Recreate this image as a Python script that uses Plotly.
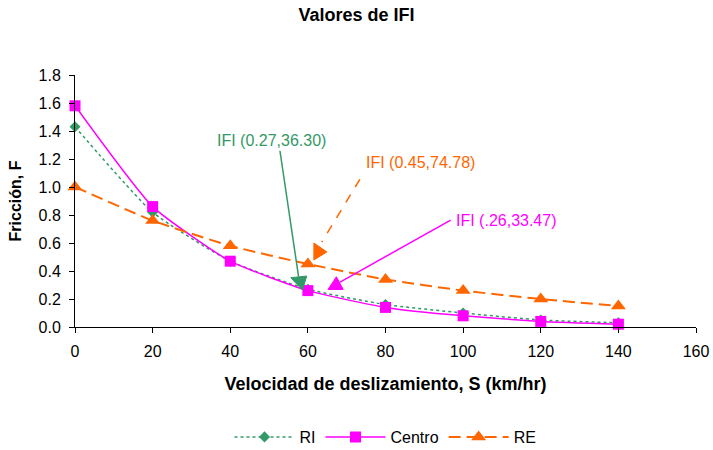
import plotly.graph_objects as go

# Velocidad de deslizamiento (km/hr) y fricción medida por franja
velocidad = [0, 20, 40, 60, 80, 100, 120, 140]
friccion_ri = [1.43, 0.82, 0.47, 0.27, 0.16, 0.10, 0.05, 0.03]
friccion_centro = [1.58, 0.86, 0.47, 0.26, 0.14, 0.08, 0.04, 0.02]
friccion_re = [1.00, 0.76, 0.58, 0.45, 0.34, 0.26, 0.20, 0.15]

x_ticks = [0, 20, 40, 60, 80, 100, 120, 140, 160]
y_ticks = [0.0, 0.2, 0.4, 0.6, 0.8, 1.0, 1.2, 1.4, 1.6, 1.8]

VERDE = "#339966"
MAGENTA = "#FF00FF"
NARANJA = "#FF6600"
FONT = "Liberation Sans, Arial, sans-serif"

fig = go.Figure()

fig.add_trace(go.Scatter(
    x=velocidad, y=friccion_ri, name="RI", mode="lines+markers",
    line=dict(color=VERDE, width=1.5, dash="3px,3px", shape="spline", smoothing=0.5),
    marker=dict(symbol="diamond", size=8.5, color=VERDE),
    cliponaxis=False,
))
fig.add_trace(go.Scatter(
    x=velocidad, y=friccion_centro, name="Centro", mode="lines+markers",
    line=dict(color=MAGENTA, width=1.5, shape="spline", smoothing=0.5),
    marker=dict(symbol="square", size=11, color=MAGENTA),
    cliponaxis=False,
))
fig.add_trace(go.Scatter(
    x=velocidad, y=friccion_re, name="RE", mode="lines+markers",
    line=dict(color=NARANJA, width=2, dash="12px,6px", shape="spline", smoothing=0.5),
    marker=dict(symbol="triangle-up", size=13, color=NARANJA),
    cliponaxis=False,
))

# Llamadas con el IFI de cada franja: línea, punta de flecha y texto
llamadas = [
    dict(texto="IFI (0.27,36.30)", color=VERDE, tx=50.5, ty=1.33,
         linea=(52.8, 1.259, 57.6, 0.36), dash="solid",
         punta=[(55.6, 0.352), (59.7, 0.364), (58.6, 0.264)]),
    dict(texto="IFI (0.45,74.78)", color=NARANJA, tx=89.1, ty=1.176,
         linea=(73.4, 1.055, 63.6, 0.607), dash="dash",
         punta=[(61.55, 0.60), (61.55, 0.479), (64.9, 0.536)]),
    dict(texto="IFI (.26,33.47)", color=MAGENTA, tx=111.25, ty=0.764,
         linea=(96.8, 0.764, 68.3, 0.321), dash="solid",
         punta=[(65.2, 0.268), (69.1, 0.268), (67.35, 0.359)]),
]

for c in llamadas:
    x0, y0, x1, y1 = c["linea"]
    fig.add_shape(type="line", xref="x", yref="y", x0=x0, y0=y0, x1=x1, y1=y1,
                  line=dict(color=c["color"], width=1.5, dash=c["dash"]))
    p = c["punta"]
    path = "M {} {} L {} {} L {} {} Z".format(p[0][0], p[0][1], p[1][0], p[1][1], p[2][0], p[2][1])
    fig.add_shape(type="path", xref="x", yref="y", path=path,
                  fillcolor=c["color"], line=dict(color=c["color"], width=1))
    fig.add_annotation(x=c["tx"], y=c["ty"], xref="x", yref="y", text=c["texto"],
                       showarrow=False, font=dict(family=FONT, size=16, color=c["color"]))

fig.update_layout(
    width=713, height=450,
    margin=dict(l=75, r=17, t=75, b=123, autoexpand=False),
    paper_bgcolor="white", plot_bgcolor="white",
    font=dict(family=FONT, size=16, color="black"),
    title=dict(text="<b>Valores de IFI</b>", x=0.5, xanchor="center",
               y=1 - 15 / 450, yanchor="middle", font=dict(size=18)),
    showlegend=True,
    legend=dict(orientation="h", x=0.5, xanchor="center", xref="paper",
                y=-110 / 252, yanchor="middle", font=dict(size=16),
                itemwidth=60, bgcolor="rgba(0,0,0,0)"),
)

fig.update_xaxes(
    range=[0, 160], tickvals=x_ticks, ticktext=[str(v) for v in x_ticks],
    showgrid=False, zeroline=False, showline=True, linecolor="black", linewidth=1,
    ticks="outside", ticklen=5, tickcolor="black", automargin=False,
    ticklabelstandoff=5,
    title=dict(text="<b>Velocidad de deslizamiento, S (km/hr)</b>", font=dict(size=18), standoff=18),
)
fig.update_yaxes(
    range=[0, 1.8], tickvals=y_ticks, ticktext=["{:.1f}".format(v) for v in y_ticks],
    showgrid=False, zeroline=False, showline=True, linecolor="black", linewidth=1,
    ticks="outside", ticklen=5, tickcolor="black", automargin=False,
    ticklabelstandoff=5,
    title=dict(text="<b>Fricción, F</b>", font=dict(size=16), standoff=12),
)

fig.write_html("out.html")
